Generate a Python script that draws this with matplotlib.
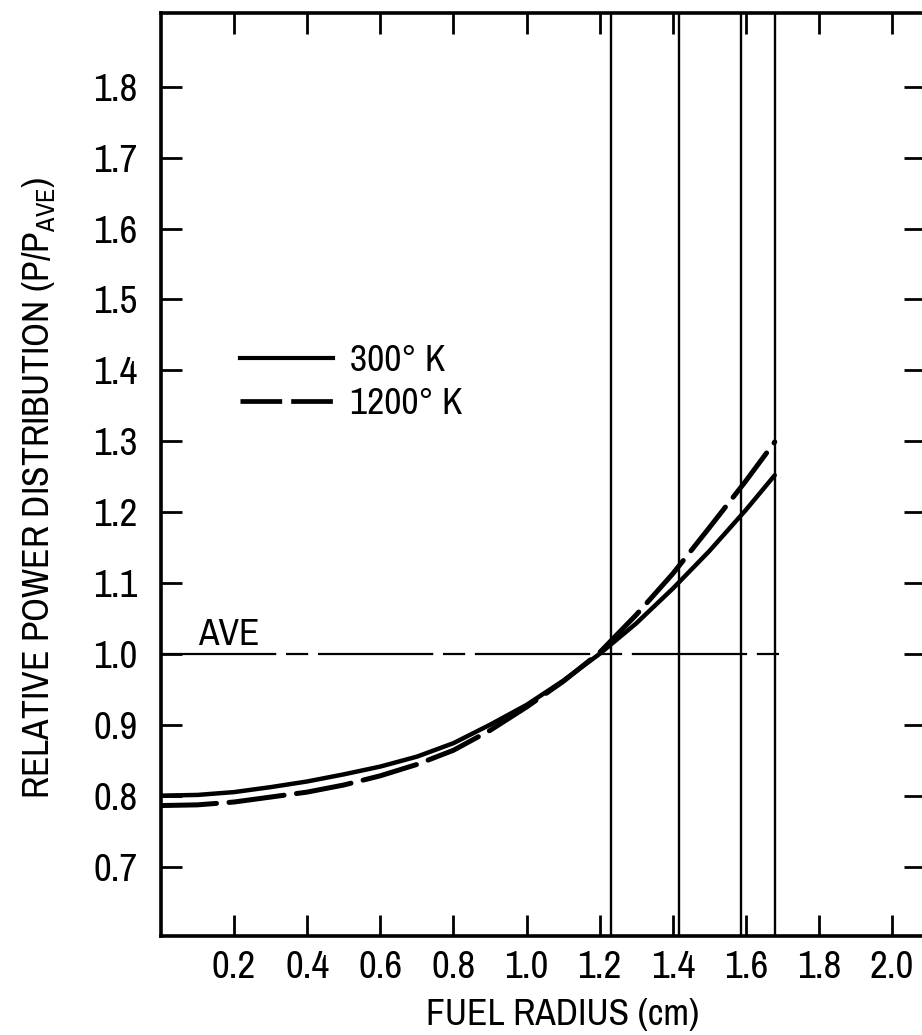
import matplotlib
matplotlib.use('Agg')
import matplotlib.pyplot as plt
from matplotlib import font_manager as fm
from matplotlib.lines import Line2D

# the original lettering is a condensed sans; use one if the machine has it
narrow = sorted({f.name for f in fm.fontManager.ttflist
                 if ('Narrow' in f.name or 'Condensed' in f.name)
                 and 'Mono' not in f.name and 'Serif' not in f.name})
plt.rcParams['font.family'] = narrow[:1] + ['DejaVu Sans']
plt.rcParams['font.stretch'] = 'condensed'
plt.rcParams['lines.scale_dashes'] = False

# fuel radius (cm) and relative power P/Pave
radius = [0.0, 0.1, 0.2, 0.3, 0.4, 0.5, 0.6, 0.7, 0.8, 0.9,
          1.0, 1.1, 1.2, 1.3, 1.4, 1.5, 1.6, 1.679]
p_300 = [0.800, 0.801, 0.805, 0.812, 0.820, 0.830, 0.841, 0.855, 0.874, 0.900,
         0.928, 0.962, 1.000, 1.043, 1.092, 1.145, 1.203, 1.252]
p_1200 = [0.786, 0.787, 0.791, 0.798, 0.805, 0.815, 0.828, 0.844, 0.864, 0.892,
          0.925, 0.961, 1.002, 1.055, 1.113, 1.178, 1.244, 1.299]
zone_bounds = [1.232, 1.416, 1.588, 1.679]
ave_level = 1.0
ave_end = 1.712

xticks = [0.2, 0.4, 0.6, 0.8, 1.0, 1.2, 1.4, 1.6, 1.8, 2.0]
xtick_labels = ['0.2', '0.4', '0.6', '0.8', '1.0', '1.2', '1.4', '1.6', '1.8', '2.0']
yticks = [0.7, 0.8, 0.9, 1.0, 1.1, 1.2, 1.3, 1.4, 1.5, 1.6, 1.7, 1.8]
ytick_labels = ['0.7', '0.8', '0.9', '1.0', '1.1', '1.2', '1.3', '1.4', '1.5', '1.6', '1.7', '1.8']

fig = plt.figure(figsize=(9.22, 10.35), dpi=100)
ax = fig.add_axes([161 / 922, 99 / 1035, 764 / 922, 923 / 1035])
ax.set_xlim(0, 2.09)
ax.set_ylim(0.602, 1.904)

fs = 27

# average line
ax.plot([0, ave_end], [ave_level, ave_level], color='k', lw=1.6,
        dashes=(83, 7, 16, 7), solid_capstyle='butt')
ax.text(0.101, 1.013, 'AVE', fontsize=fs, va='baseline', ha='left')

# zone boundaries
for xb in zone_bounds:
    ax.axvline(xb, color='k', lw=1.7)

ax.plot(radius, p_300, color='k', lw=3.2, solid_capstyle='round')
ax.plot(radius, p_1200, color='k', lw=3.6, dashes=(40, 9), dash_capstyle='round')

handles = [Line2D([], [], color='k', lw=3.0),
           Line2D([], [], color='k', lw=3.4, dashes=(30, 6.5))]
ax.legend(handles, ['300° K', '1200° K'], loc='upper left',
          bbox_to_anchor=(0.103, 0.641), frameon=False, fontsize=fs,
          borderpad=0, borderaxespad=0, handlelength=2.5,
          handletextpad=0.45, labelspacing=0.25)

ax.set_xticks(xticks)
ax.set_xticklabels(xtick_labels)
ax.set_yticks(yticks)
ax.set_yticklabels(ytick_labels)
ax.tick_params(direction='in', length=15, width=2, labelsize=28,
               top=True, right=True)
ax.tick_params(axis='x', pad=10)
ax.tick_params(axis='y', pad=17)
for sp in ax.spines.values():
    sp.set_linewidth(2.6)

ax.set_xlabel('FUEL RADIUS (cm)', fontsize=fs)
ax.xaxis.set_label_coords(0.526, -0.067)
ax.xaxis.label.set_va('top')
ax.set_ylabel('RELATIVE POWER DISTRIBUTION (P/P$_\\mathregular{AVE}$)', fontsize=fs)
ax.yaxis.set_label_coords(-0.135, 0.486)

fig.savefig('out.png', dpi=100)
